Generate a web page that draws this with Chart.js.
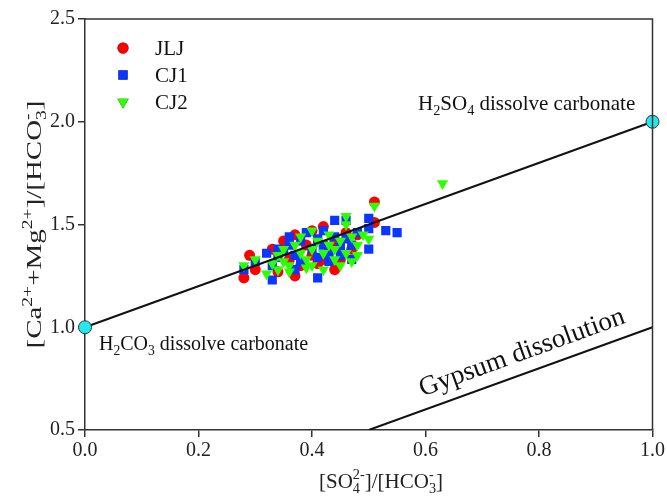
<!DOCTYPE html>
<html><head><meta charset="utf-8">
<script src="https://cdn.jsdelivr.net/npm/chart.js@4/dist/chart.umd.min.js"></script>
<style>html,body{margin:0;padding:0;background:#fff}#wrap{width:667px;height:498px}</style>
</head><body><div id="wrap"><canvas id="c" width="667" height="498"></canvas></div>
<script>
const seriesNames = ['JLJ','CJ1','CJ2'];
const jljX = [0.28,0.29,0.30,0.33,0.34,0.36,0.37,0.37,0.38,0.39,0.40,0.40,0.41,0.42,0.43,0.44,0.44,0.45,0.46,0.47,0.48,0.51,0.51,0.35,0.42];
const jljY = [1.24,1.35,1.28,1.38,1.27,1.33,1.45,1.25,1.30,1.40,1.47,1.35,1.31,1.49,1.37,1.28,1.42,1.33,1.46,1.38,1.45,1.51,1.61,1.42,1.33];
const cj1X = [0.28,0.30,0.33,0.32,0.33,0.34,0.35,0.36,0.36,0.37,0.38,0.38,0.39,0.41,0.40,0.41,0.41,0.42,0.42,0.43,0.43,0.44,0.44,0.45,0.45,0.46,0.46,0.47,0.47,0.48,0.50,0.50,0.50,0.53,0.55,0.37,0.34];
const cj1Y = [1.28,1.32,1.23,1.36,1.30,1.34,1.37,1.40,1.44,1.35,1.32,1.42,1.46,1.24,1.38,1.34,1.43,1.47,1.40,1.36,1.32,1.44,1.52,1.39,1.35,1.43,1.52,1.40,1.33,1.46,1.53,1.48,1.38,1.47,1.46,1.28,1.38];
const cj2X = [0.28,0.30,0.32,0.33,0.34,0.34,0.35,0.36,0.36,0.37,0.38,0.38,0.39,0.40,0.40,0.40,0.41,0.42,0.42,0.43,0.43,0.44,0.44,0.45,0.45,0.46,0.46,0.47,0.47,0.48,0.48,0.49,0.50,0.51,0.63,0.35,0.39,0.46];
const cj2Y = [1.30,1.33,1.26,1.31,1.35,1.28,1.38,1.30,1.27,1.40,1.36,1.44,1.33,1.38,1.47,1.30,1.42,1.36,1.28,1.40,1.45,1.33,1.38,1.30,1.42,1.36,1.50,1.44,1.32,1.40,1.35,1.45,1.43,1.59,1.70,1.32,1.29,1.54];
const carbonateLineX = [0, 1];
const carbonateLineY = [1, 2];
const gypsumLineX = [0.5, 1];
const gypsumLineY = [0.5, 1];
const xTicks = [0, 0.2, 0.4, 0.6, 0.8, 1.0];
const yTicks = [0.5, 1.0, 1.5, 2.0, 2.5];

const zip = (xs, ys) => xs.map((x, i) => ({x, y: ys[i]}));
const SERIF = '"Liberation Serif", "Times New Roman", serif';
const SMALL = 0.68;

function richWidth(ctx, segs, size) {
  let w = 0;
  for (const s of segs) {
    if (s.stack) {
      ctx.font = (size*SMALL) + 'px ' + SERIF;
      w += Math.max(ctx.measureText(s.sub).width, ctx.measureText(s.sup).width);
    } else {
      ctx.font = ((s.sup||s.sub) ? size*SMALL : size) + 'px ' + SERIF;
      w += ctx.measureText(s.t).width;
    }
  }
  return w;
}
function drawRich(ctx, segs, x, y, size) {
  ctx.textBaseline = 'alphabetic';
  ctx.textAlign = 'left';
  let cx = x;
  for (const s of segs) {
    if (s.stack) {
      ctx.font = (size*SMALL) + 'px ' + SERIF;
      ctx.fillText(s.sup, cx, y - size*0.45);
      ctx.fillText(s.sub, cx, y + size*0.25);
      cx += Math.max(ctx.measureText(s.sub).width, ctx.measureText(s.sup).width);
    } else if (s.sup) {
      ctx.font = (size*SMALL) + 'px ' + SERIF;
      ctx.fillText(s.t, cx, y - size*0.45);
      cx += ctx.measureText(s.t).width;
    } else if (s.sub) {
      ctx.font = (size*SMALL) + 'px ' + SERIF;
      ctx.fillText(s.t, cx, y + size*0.25);
      cx += ctx.measureText(s.t).width;
    } else {
      ctx.font = size + 'px ' + SERIF;
      ctx.fillText(s.t, cx, y);
      cx += ctx.measureText(s.t).width;
    }
  }
}

const yTitle = [{t:'[Ca'},{t:'2+',sup:true},{t:'+Mg'},{t:'2+',sup:true},{t:']/[HCO'},{stack:true,sub:'3',sup:'-'},{t:']'}];
const xTitle = [{t:'[SO'},{stack:true,sub:'4',sup:'2-'},{t:']/[HCO'},{stack:true,sub:'3',sup:'-'},{t:']'}];
const h2so4 = [{t:'H'},{t:'2',sub:true},{t:'SO'},{t:'4',sub:true},{t:' dissolve carbonate'}];
const h2co3 = [{t:'H'},{t:'2',sub:true},{t:'CO'},{t:'3',sub:true},{t:' dissolve carbonate'}];

const decor = {
  id: 'decor',
  afterDatasetsDraw(chart) {
    const ctx = chart.ctx, a = chart.chartArea;
    const xs = chart.scales.x, ys = chart.scales.y;
    ctx.save();
    ctx.strokeStyle = '#333'; ctx.lineWidth = 1.5;
    ctx.beginPath();
    ctx.moveTo(a.left, a.top); ctx.lineTo(a.right, a.top); ctx.lineTo(a.right, a.bottom);
    ctx.stroke();
    ctx.fillStyle = '#111';
    drawRich(ctx, h2so4, 418, 110, 21);
    drawRich(ctx, h2co3, 99, 350, 20);
    const ang = Math.atan2(ys.getPixelForValue(0.5) - ys.getPixelForValue(1), xs.getPixelForValue(1) - xs.getPixelForValue(0.5));
    ctx.save();
    ctx.translate(522, 353);
    ctx.rotate(-ang);
    ctx.font = '27px ' + SERIF;
    ctx.textAlign = 'center'; ctx.textBaseline = 'middle';
    ctx.fillText('Gypsum dissolution', 0, 0);
    ctx.restore();
    const legY = [48, 75, 102];
    chart.data.datasets.slice(0,3).forEach((ds, i) => {
      Chart.helpers.drawPoint(ctx, {pointStyle: ds.pointStyle, rotation: ds.rotation||0, radius: ds.pointRadius, borderWidth: 0}, 123, legY[i]);
      ctx.fillStyle = ds.backgroundColor; ctx.fill();
      ctx.fillStyle = '#111';
      ctx.font = '21px ' + SERIF; ctx.textAlign = 'left'; ctx.textBaseline = 'middle';
      ctx.fillText(ds.label, 155, legY[i] + 1);
    });
    ctx.fillStyle = '#222';
    const wx = richWidth(ctx, xTitle, 21);
    drawRich(ctx, xTitle, 381 - wx/2, 488, 21);
    const wy = richWidth(ctx, yTitle, 21);
    const target = 248;
    ctx.save();
    ctx.translate(41, (a.top + a.bottom)/2);
    ctx.rotate(-Math.PI/2);
    ctx.scale(target / wy, 1);
    drawRich(ctx, yTitle, -wy/2, 0, 21);
    ctx.restore();
    ctx.restore();
  }
};

new Chart(document.getElementById('c'), {
  type: 'scatter',
  data: {
    datasets: [
      {label: seriesNames[0], data: zip(jljX, jljY), pointStyle: 'circle', pointRadius: 5.5, backgroundColor: '#ff0000', borderWidth: 0, order: 3},
      {label: seriesNames[1], data: zip(cj1X, cj1Y), pointStyle: 'rect', pointRadius: 6.5, backgroundColor: '#0a36ff', borderWidth: 0, order: 2},
      {label: seriesNames[2], data: zip(cj2X, cj2Y), pointStyle: 'triangle', rotation: 180, pointRadius: 6.5, backgroundColor: '#2cff00', borderWidth: 0, order: 1},
      {label: 'carbonate', type: 'line', data: zip(carbonateLineX, carbonateLineY), borderColor: '#111', borderWidth: 2, pointRadius: 6.5, pointBackgroundColor: '#22e8ee', pointBorderColor: '#333', pointBorderWidth: 1, clip: false, order: 0},
      {label: 'gypsum', type: 'line', data: zip(gypsumLineX, gypsumLineY), borderColor: '#111', borderWidth: 2, pointRadius: 0, order: 0}
    ]
  },
  options: {
    responsive: false,
    animation: false,
    layout: {padding: {top: 19, right: 14, left: 0, bottom: 0}},
    plugins: {legend: {display: false}, tooltip: {enabled: false}},
    scales: {
      x: {
        type: 'linear', min: 0, max: 1,
        afterBuildTicks: s => { s.ticks = xTicks.map(v => ({value: v})); },
        afterFit: s => { s.height = 68; },
        ticks: {font: {family: SERIF, size: 20}, color: '#222', padding: 2, callback: v => v.toFixed(1)},
        grid: {display: true, drawOnChartArea: false, drawTicks: true, tickLength: 7, color: '#333', lineWidth: 1.5},
        border: {display: true, color: '#333', width: 1.5}
      },
      y: {
        type: 'linear', min: 0.5, max: 2.5,
        afterBuildTicks: s => { s.ticks = yTicks.map(v => ({value: v})); },
        afterFit: s => { s.width = 85; },
        ticks: {font: {family: SERIF, size: 20}, color: '#222', padding: 3, callback: v => v.toFixed(1)},
        grid: {display: true, drawOnChartArea: false, drawTicks: true, tickLength: 7, color: '#333', lineWidth: 1.5},
        border: {display: true, color: '#333', width: 1.5}
      }
    }
  },
  plugins: [decor]
});
</script>
</body></html>
